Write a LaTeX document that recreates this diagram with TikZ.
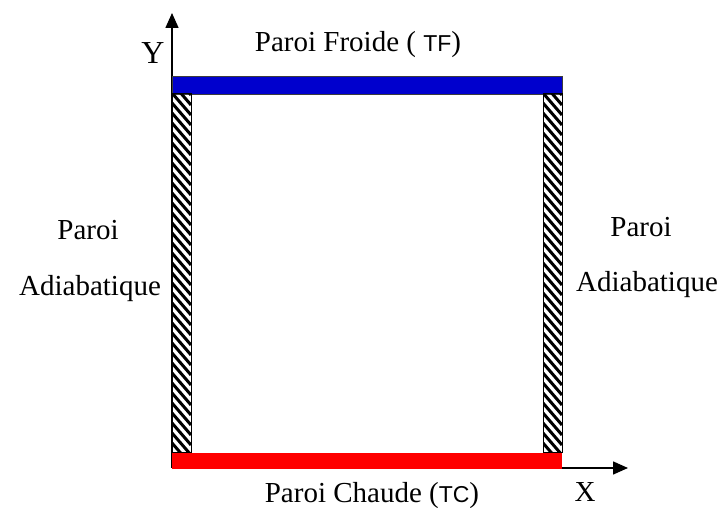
\documentclass[tikz,border=0pt]{standalone}
\usepackage{fontspec}
\setmainfont{Liberation Serif}
\newfontfamily\labelsans{Liberation Sans}
\usepackage{xcolor}
\usepackage{tikz}
\usetikzlibrary{arrows.meta,positioning}
\definecolor{wallBlue}{RGB}{0,0,205}
\definecolor{wallRed}{RGB}{255,0,0}
\definecolor{wallGray}{RGB}{60,60,60}
\newcommand{\tempmark}[1]{{\labelsans\fontsize{11.5}{13}\selectfont #1}}

\begin{document}
\begin{tikzpicture}[x=0.5pt,y=0.5pt,
    axisline/.style={black, line width=0.75pt, -{Triangle[length=7.5pt,width=6.5pt]}},
    lbl/.style={font=\fontsize{14.5}{16}\selectfont, anchor=base, inner sep=0pt}]
    \useasboundingbox (0,0) rectangle (723,508);

    % axes
    \coordinate (O) at (172,40);
    \coordinate (xEnd) at (628,40);
    \coordinate (yEnd) at (172,495);
    \draw[axisline] (O) -- (xEnd);
    \draw[axisline] (O) -- (yEnd);

    % hot and cold walls
    \fill[wallBlue, draw=wallGray, line width=0.3pt] (172,414) rectangle (562,432);
    \fill[wallRed] (172,39) rectangle (562,55);

    % adiabatic walls (hatched)
    \foreach \wx in {172,543}{
        \begin{scope}
            \clip (\wx,55) rectangle ++(19,359);
            \foreach \hy in {55,65,...,445}
                \draw[line width=1.5pt] (\wx,\hy) -- ++(19,-22);
        \end{scope}
        \draw[line width=0.5pt] (\wx,55) rectangle ++(19,359);
    }

    % labels
    \node[lbl, font=\fontsize{16}{18}\selectfont] (ylab) at (153,444) {Y};
    \node[lbl] (xlab) at (585,6) {X};
    \node[lbl] (froide) at (358,456) {Paroi Froide ( \tempmark{TF})};
    \node[lbl] (chaude) at (372,5) {Paroi Chaude (\tempmark{TC})};
    \node[lbl] (paroiL) at (88,268) {Paroi};
    \node[lbl] (adiaL) at (90,212) {Adiabatique};
    \node[lbl] (paroiR) at (641,271) {Paroi};
    \node[lbl] (adiaR) at (647,216) {Adiabatique};
\end{tikzpicture}
\end{document}
